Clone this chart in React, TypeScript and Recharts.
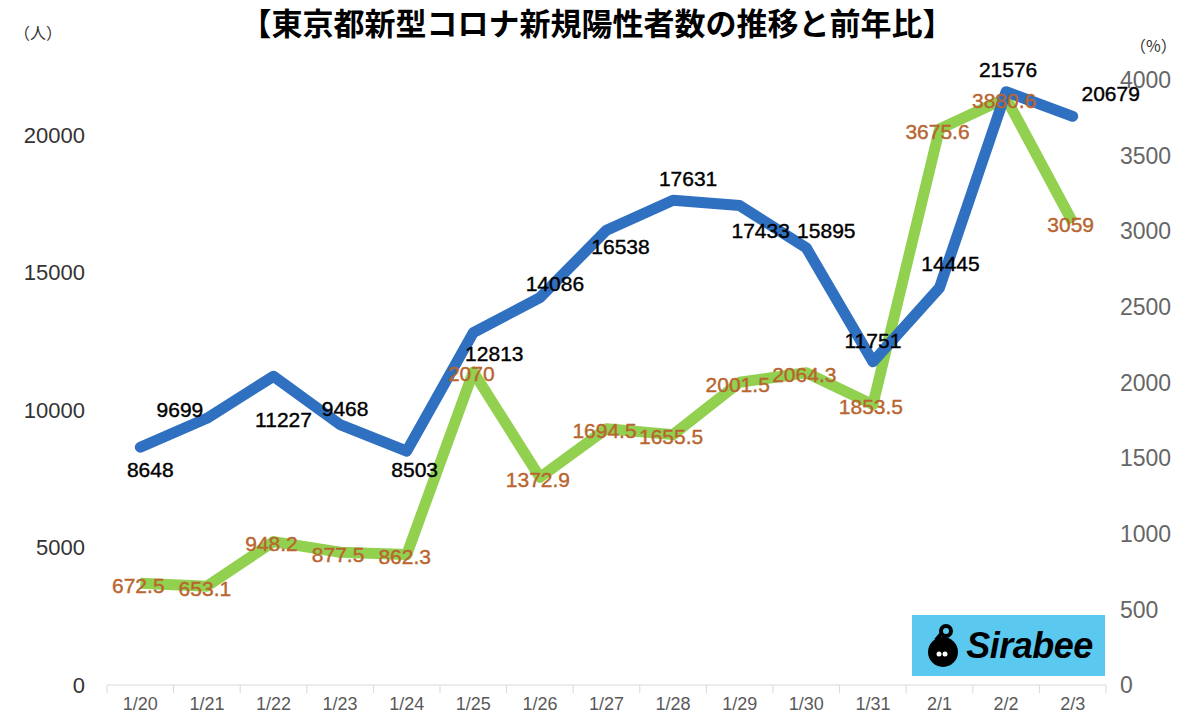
import { LineChart, Line, XAxis, YAxis, LabelList } from "recharts"

const dates = ["1/20", "1/21", "1/22", "1/23", "1/24", "1/25", "1/26", "1/27", "1/28", "1/29", "1/30", "1/31", "2/1", "2/2", "2/3"]
const positives = [8648, 9699, 11227, 9468, 8503, 12813, 14086, 16538, 17631, 17433, 15895, 11751, 14445, 21576, 20679]
const yoyRatio = [672.5, 653.1, 948.2, 877.5, 862.3, 2070, 1372.9, 1694.5, 1655.5, 2001.5, 2064.3, 1853.5, 3675.6, 3880.6, 3059]
const leftTicks = [0, 5000, 10000, 15000, 20000]
const rightTicks = [0, 500, 1000, 1500, 2000, 2500, 3000, 3500, 4000]

// label placement for the blue series (offset from point, px)
const blueDx = [10, -27, 10, 5, 8, 21, 15, 14, 15, 21, 20, 0, 11, 2, 38]
const blueDy = [22, -9, 43, -16, 18, 21, -14, 16, -22, 25, -17, -21, -24, -22, -23]

const BLUE = "#3070C0"
const GREEN = "#92D050"
const ORANGE = "#B8652F"

const W = 1200
const H = 726
const M = { top: 80, right: 94, bottom: 41, left: 107 }
const BAND = (W - M.left - M.right) / dates.length

const data = dates.map((d, i) => ({ date: d, positives: positives[i], ratio: yoyRatio[i] }))

const labelFont = "'Liberation Sans', Arial, sans-serif"

function BlueLabel(props: any) {
  const { x, y, index, value } = props
  return (
    <text
      x={x + blueDx[index]}
      y={y + blueDy[index]}
      textAnchor="middle"
      dominantBaseline="central"
      fontSize={21}
      fontFamily={labelFont}
      fill="#000"
      stroke="#000"
      strokeWidth={0.4}
    >
      {value}
    </text>
  )
}

function GreenLabel(props: any) {
  const { x, y, value } = props
  return (
    <text
      x={x - 2}
      y={y + 2}
      textAnchor="middle"
      dominantBaseline="central"
      fontSize={21}
      fontFamily={labelFont}
      fill={ORANGE}
      stroke={ORANGE}
      strokeWidth={0.4}
    >
      {value}
    </text>
  )
}

function DateTick(props: any) {
  const { x, y, payload, index } = props
  const last = index === dates.length - 1
  return (
    <g>
      <line x1={x - BAND / 2} x2={x - BAND / 2} y1={y - 8} y2={y} stroke="#d9d9d9" />
      {last && <line x1={x + BAND / 2} x2={x + BAND / 2} y1={y - 8} y2={y} stroke="#d9d9d9" />}
      <text x={x} y={y + 11} textAnchor="middle" dominantBaseline="central" fontSize={18} fontFamily={labelFont} fill="#595959">
        {payload.value}
      </text>
    </g>
  )
}

function Logo() {
  return (
    <div
      style={{
        position: "absolute",
        left: 912,
        top: 615,
        width: 193,
        height: 61,
        background: "#5BC8F0",
        display: "flex",
        alignItems: "center",
        justifyContent: "center",
        gap: 4,
      }}
    >
      <svg width={38} height={44} viewBox="0 0 38 44">
        <circle cx={19} cy={28} r={15} fill="#000" />
        <circle cx={22} cy={7} r={5} fill="none" stroke="#000" strokeWidth={4} />
        <line x1={18} y1={9} x2={12} y2={16} stroke="#000" strokeWidth={4} />
        <circle cx={15} cy={30} r={2.5} fill="#fff" />
        <circle cx={21} cy={30} r={2.5} fill="#fff" />
      </svg>
      <span
        style={{
          fontFamily: "'Liberation Sans', Arial, sans-serif",
          fontWeight: 700,
          fontStyle: "italic",
          fontSize: 36,
          color: "#000",
          letterSpacing: -0.5,
        }}
      >
        Sirabee
      </span>
    </div>
  )
}

export default function App() {
  return (
    <div style={{ position: "absolute", left: 0, top: 0, width: W, height: H, background: "#fff" }}>
      <div
        style={{
          position: "absolute",
          left: 0,
          top: 2,
          width: W,
          textAlign: "center",
          fontFamily: "'Noto Sans CJK JP', sans-serif",
          fontWeight: 700,
          fontSize: 31,
          lineHeight: "40px",
          color: "#000",
          paddingRight: 6,
          boxSizing: "border-box",
        }}
      >
        【東京都新型コロナ新規陽性者数の推移と前年比】
      </div>
      <div style={{ position: "absolute", left: 14, top: 20, fontFamily: "'Noto Sans CJK JP', sans-serif", fontSize: 16, color: "#333" }}>
        （人）
      </div>
      <div style={{ position: "absolute", left: 1130, top: 33, fontFamily: "'Noto Sans CJK JP', sans-serif", fontSize: 16, color: "#333" }}>
        （%）
      </div>
      <LineChart width={W} height={H} data={data} margin={{ top: M.top, right: 0, bottom: 0, left: 0 }}>
        <XAxis
          dataKey="date"
          padding={{ left: BAND / 2, right: BAND / 2 }}
          axisLine={{ stroke: "#d9d9d9" }}
          tickLine={false}
          tick={<DateTick />}
          interval={0}
          height={M.bottom}
        />
        <YAxis
          yAxisId="left"
          width={M.left}
          domain={[0, 22000]}
          ticks={leftTicks}
          axisLine={false}
          tickLine={false}
          tickMargin={16}
          tick={{ fontSize: 22, fill: "#333", fontFamily: labelFont }}
        />
        <YAxis
          yAxisId="right"
          orientation="right"
          width={M.right}
          domain={[0, 4000]}
          ticks={rightTicks}
          axisLine={false}
          tickLine={false}
          tickMargin={8}
          tick={{ fontSize: 23, fill: "#666", fontFamily: labelFont, textAnchor: "start" }}
        />
        <Line
          yAxisId="right"
          dataKey="ratio"
          stroke={GREEN}
          strokeWidth={11}
          strokeLinejoin="round"
          dot={false}
          isAnimationActive={false}
        >
          <LabelList dataKey="ratio" content={<GreenLabel />} />
        </Line>
        <Line
          yAxisId="left"
          dataKey="positives"
          stroke={BLUE}
          strokeWidth={11}
          strokeLinecap="round"
          strokeLinejoin="round"
          dot={false}
          isAnimationActive={false}
        >
          <LabelList dataKey="positives" content={<BlueLabel />} />
        </Line>
      </LineChart>
      <Logo />
    </div>
  )
}
